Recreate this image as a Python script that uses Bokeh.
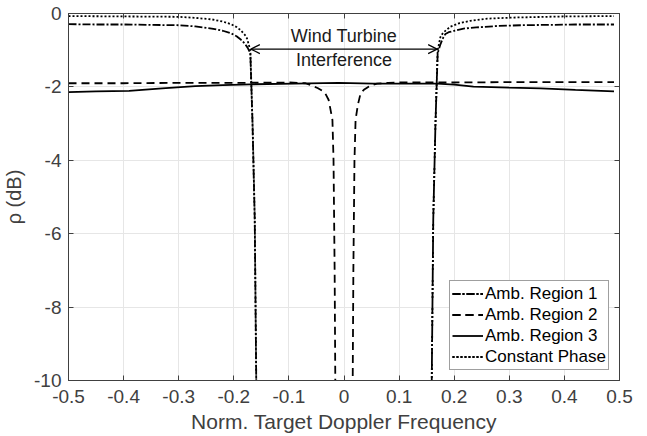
from bokeh.plotting import figure
from bokeh.models import (FixedTicker, LinearAxis, Range1d, Label, Arrow, OpenHead,
                          Legend)
from bokeh.embed import file_html
from bokeh.resources import INLINE

# ---------------- data ----------------
x_ticks = [-0.5, -0.4, -0.3, -0.2, -0.1, 0.0, 0.1, 0.2, 0.3, 0.4, 0.5]
x_tick_labels = ["-0.5", "-0.4", "-0.3", "-0.2", "-0.1", "0", "0.1", "0.2", "0.3", "0.4", "0.5"]
y_ticks = [-10, -8, -6, -4, -2, 0]
y_tick_labels = ["-10", "-8", "-6", "-4", "-2", "0"]

# Amb. Region 1 (dash-dot), left and right branches
r1_left_x = [-0.5, -0.45, -0.4, -0.35, -0.3, -0.27, -0.24, -0.22, -0.205, -0.195, -0.188,
             -0.18, -0.175, -0.17, -0.166, -0.162, -0.158]
r1_left_y = [-0.29, -0.30, -0.30, -0.31, -0.32, -0.35, -0.41, -0.47, -0.54, -0.62, -0.70,
             -0.82, -0.93, -1.08, -3.0, -5.6, -12.0]
r1_right_x = [0.158, 0.162, 0.166, 0.17, 0.175, 0.18, 0.184, 0.19, 0.2, 0.217, 0.24,
              0.278, 0.32, 0.37, 0.42, 0.49]
r1_right_y = [-12.0, -5.6, -3.0, -1.08, -0.84, -0.66, -0.56, -0.51, -0.47, -0.41, -0.38,
              -0.34, -0.32, -0.31, -0.30, -0.30]

# Amb. Region 2 (dashed)
r2_left_x = [-0.5, -0.4, -0.3, -0.2, -0.1, -0.07, -0.061, -0.048, -0.04, -0.034, -0.028,
             -0.025, -0.021, -0.019, -0.017, -0.015]
r2_left_y = [-1.90, -1.90, -1.89, -1.89, -1.88, -1.90, -1.95, -2.03, -2.10, -2.18, -2.35,
             -2.58, -2.9, -4.0, -7.0, -12.0]
r2_right_x = [0.015, 0.017, 0.019, 0.021, 0.025, 0.030, 0.036, 0.044, 0.051, 0.06, 0.08,
              0.1, 0.2, 0.3, 0.4, 0.49]
r2_right_y = [-12.0, -7.0, -4.0, -2.9, -2.5, -2.18, -2.08, -2.0, -1.95, -1.91, -1.89,
              -1.88, -1.88, -1.87, -1.87, -1.87]

# Amb. Region 3 (solid)
r3_x = [-0.5, -0.45, -0.39, -0.33, -0.27, -0.22, -0.17, -0.09, -0.01, 0.054, 0.12, 0.169,
        0.2, 0.235, 0.3, 0.357, 0.42, 0.49]
r3_y = [-2.14, -2.12, -2.11, -2.04, -1.98, -1.95, -1.93, -1.91, -1.89, -1.91, -1.91, -1.91,
        -1.94, -1.99, -2.02, -2.04, -2.08, -2.12]

# Constant Phase (dotted)
cp_left_x = [-0.5, -0.4, -0.3, -0.27, -0.24, -0.22, -0.205, -0.195, -0.188, -0.18, -0.176,
             -0.17, -0.166, -0.162, -0.158]
cp_left_y = [-0.07, -0.08, -0.09, -0.12, -0.16, -0.22, -0.29, -0.37, -0.45, -0.58, -0.68,
             -1.0, -3.0, -5.6, -12.0]
cp_right_x = [0.158, 0.162, 0.166, 0.17, 0.175, 0.18, 0.193, 0.21, 0.229, 0.26, 0.308,
              0.4, 0.49]
cp_right_y = [-12.0, -5.6, -3.0, -1.0, -0.64, -0.52, -0.36, -0.26, -0.20, -0.14, -0.11,
              -0.08, -0.07]

series_labels = ["Amb. Region 1", "Amb. Region 2", "Amb. Region 3", "Constant Phase"]
annotation_lines = ["Wind Turbine", "Interference"]
x_label = "Norm. Target Doppler Frequency"
y_label = "\u03c1 (dB)"

# ---------------- figure ----------------
FONT = "Liberation Sans"
AXC = "#404040"

p = figure(width=647, height=436, output_backend="svg", toolbar_location=None,
           x_range=Range1d(-0.5, 0.5), y_range=Range1d(-10, 0),
           min_border_left=68, min_border_right=28, min_border_top=13, min_border_bottom=56,
           background_fill_color="white", border_fill_color="white")
p.outline_line_color = AXC
p.outline_line_width = 1

x_over = {t: s for t, s in zip(x_ticks, x_tick_labels)}
y_over = {t: s for t, s in zip(y_ticks, y_tick_labels)}

for ax, ticks, over in ((p.xaxis[0], x_ticks, x_over), (p.yaxis[0], y_ticks, y_over)):
    ax.ticker = FixedTicker(ticks=ticks)
    ax.major_label_overrides = over
    ax.minor_tick_line_color = None
    ax.major_tick_in = 5
    ax.major_tick_out = 0
    ax.axis_line_color = AXC
    ax.major_tick_line_color = AXC
    ax.major_label_text_font = FONT
    ax.major_label_text_font_size = "19px"
    ax.major_label_text_color = AXC
    ax.axis_label_text_font = FONT
    ax.axis_label_text_font_style = "normal"
    ax.axis_label_text_color = AXC

p.xaxis[0].axis_label = x_label
p.xaxis[0].axis_label_text_font_size = "21px"
p.xaxis[0].major_label_standoff = 9
p.xaxis[0].axis_label_standoff = 4
p.yaxis[0].axis_label = y_label
p.yaxis[0].axis_label_text_font_size = "20px"
p.yaxis[0].major_label_standoff = 7
p.yaxis[0].axis_label_standoff = 6

# box axes (top/right) with inward ticks, no labels
for loc, ticks in (("above", x_ticks), ("right", y_ticks)):
    ax = LinearAxis(ticker=FixedTicker(ticks=ticks),
                    major_label_overrides={t: "" for t in ticks})
    ax.minor_tick_line_color = None
    ax.major_tick_in = 5
    ax.major_tick_out = 0
    ax.axis_line_color = AXC
    ax.major_tick_line_color = AXC
    ax.major_label_text_font_size = "1px"
    ax.major_label_standoff = 0
    p.add_layout(ax, loc)

p.xgrid.ticker = FixedTicker(ticks=x_ticks)
p.ygrid.ticker = FixedTicker(ticks=y_ticks)
p.grid.grid_line_color = "#e6e6e6"
p.grid.grid_line_width = 1

LW = 1.8
r1a = p.line(r1_left_x, r1_left_y, line_color="black", line_width=LW, line_dash="8 2 2 2")
r1b = p.line(r1_right_x, r1_right_y, line_color="black", line_width=LW, line_dash="8 2 2 2")
r2a = p.line(r2_left_x, r2_left_y, line_color="black", line_width=LW, line_dash="8 5")
r2b = p.line(r2_right_x, r2_right_y, line_color="black", line_width=LW, line_dash="8 5")
r3 = p.line(r3_x, r3_y, line_color="black", line_width=LW)
cpa = p.line(cp_left_x, cp_left_y, line_color="black", line_width=LW, line_dash="2 2")
cpb = p.line(cp_right_x, cp_right_y, line_color="black", line_width=LW, line_dash="2 2")

legend = Legend(items=[(series_labels[0], [r1a, r1b]),
                       (series_labels[1], [r2a, r2b]),
                       (series_labels[2], [r3]),
                       (series_labels[3], [cpa, cpb])],
                location=(381, 10))
legend.label_text_font = FONT
legend.label_text_font_size = "17px"
legend.label_text_color = "black"
legend.glyph_width = 31
legend.glyph_height = 21
legend.label_height = 21
legend.label_standoff = 2
legend.spacing = 0
legend.padding = 2
legend.margin = 0
legend.border_line_color = AXC
legend.border_line_width = 1
legend.background_fill_color = "white"
legend.background_fill_alpha = 1
p.add_layout(legend)

# annotation
p.add_layout(Label(x=0.0, y=-0.62, text=annotation_lines[0], text_align="center",
                   text_baseline="middle", text_font=FONT, text_font_size="18px",
                   text_color="#1a1a1a"))
p.add_layout(Label(x=0.0, y=-1.27, text=annotation_lines[1], text_align="center",
                   text_baseline="middle", text_font=FONT, text_font_size="18px",
                   text_color="#1a1a1a"))
p.add_layout(Arrow(start=OpenHead(size=9, line_width=1.2, line_color="black"),
                   end=OpenHead(size=9, line_width=1.2, line_color="black"),
                   x_start=-0.169, x_end=0.169, y_start=-0.97, y_end=-0.97,
                   line_width=1.2, line_color="black"))

open("out.html", "w").write(file_html(p, INLINE))
